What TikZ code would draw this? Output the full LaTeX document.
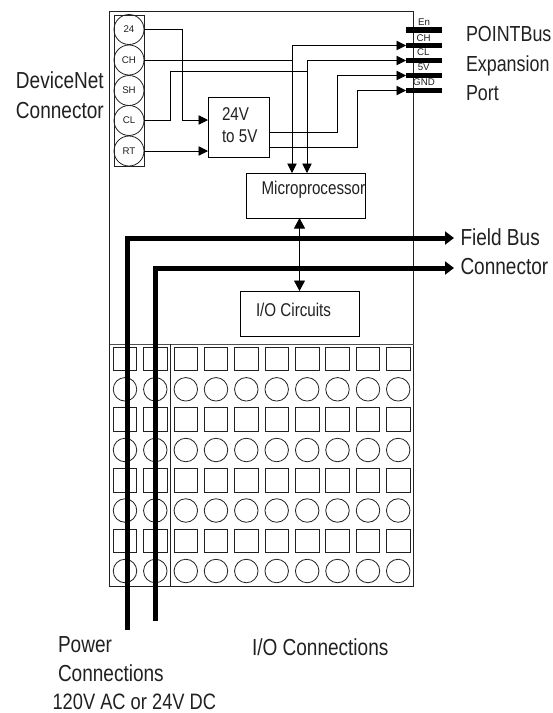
\documentclass[tikz,border=0pt]{standalone}
\usepackage{fontspec}
\setmainfont{Liberation Sans}[FakeStretch=0.82]
\newfontfamily\plainsans{Liberation Sans}
\usetikzlibrary{arrows.meta}
\definecolor{ink}{gray}{0.13}
\tikzset{
 x=1pt,y=-1pt,
 every node/.style={text=ink,inner sep=0pt,outer sep=0pt},
 lbl/.style={font=\fontsize{23.2}{29.5}\selectfont,align=left},
 pinc/.style={circle,draw=ink,line width=0.8pt,minimum size=30pt,font=\plainsans\fontsize{9.7}{11}\selectfont},
 blockb/.style={rectangle,draw=black,line width=1pt},
 blockt/.style={font=\fontsize{18.5}{22}\selectfont,align=left},
 wire/.style={draw=black,line width=0.9pt},
 arr/.style={wire,-{Triangle[length=9.5pt,width=9.5pt]}},
 bus/.style={draw=black,line width=5pt,-{Triangle[length=9pt,width=13pt]}},
 barp/.style={rectangle,fill=black,minimum width=36pt,minimum height=5.5pt},
 tsq/.style={rectangle,draw=ink,line width=0.8pt,minimum size=23.5pt},
 tci/.style={circle,draw=ink,line width=0.8pt,minimum size=23.5pt},
 pinl/.style={font=\plainsans\fontsize{9.7}{11}\selectfont},
}
\begin{document}
\begin{tikzpicture}
\useasboundingbox (0,0) rectangle (553,713);
\fill[white] (0,0) rectangle (553,713);
% outer
\node[draw=ink,line width=0.9pt,minimum width=304pt,minimum height=575pt] (body) at (261.5,298.5) {};
\coordinate (divL) at (109.5,344); \coordinate (divR) at (413.5,344);
\draw[draw=ink!80,line width=0.9pt] (divL) -- (divR);
\coordinate (vt) at (170.5,344); \coordinate (vb) at (170.5,586);
\draw[draw=ink,line width=0.7pt] (vt) -- (vb);
% strip
\node[draw=ink,line width=0.8pt,minimum width=30pt,minimum height=151pt] (strip) at (129,90.5) {};
\node[pinc] (p24) at (129,29.5) {24};
\node[pinc] (pCH) at (129,60) {CH};
\node[pinc] (pSH) at (129,90.5) {SH};
\node[pinc] (pCL) at (129,120.5) {CL};
\node[pinc] (pRT) at (129,151) {RT};
% blocks
\node[blockb,minimum width=61pt,minimum height=60pt] (conv) at (238.5,127) {};
\node[blockt,anchor=west] (convt) at (222,125) {24V\\to 5V};
\node[blockb,minimum width=119pt,minimum height=45pt] (micro) at (305.5,195.5) {};
\node[blockt,anchor=west] (microt) at (261.5,190) {Microprocessor};
\node[blockb,minimum width=119pt,minimum height=45pt] (io) at (299.5,313.5) {};
\node[blockt,anchor=west] (iot) at (256,310) {I/O Circuits};
% port bars
\foreach \n/\y in {En/30,CH/45.5,CL/60.5,V5/75.5,GND/90.5}{\node[barp] (b\n) at (424,\y) {};}
\node[pinl] (lEn) at (424,21.7) {En};
\node[pinl] (lCH) at (423.7,37.7) {CH};
\node[pinl] (lCL) at (423.3,52.3) {CL};
\node[pinl] (lV) at (423.7,67.7) {5V};
\node[pinl] (lG) at (424,82.3) {GND};
% wires
\coordinate (u24) at (conv.west |- 0,120);
\coordinate (uRT) at (conv.west |- pRT);
\coordinate (o1) at (conv.east |- 0,132);
\coordinate (o2) at (conv.east |- 0,147);
\coordinate (m1) at (292,173); \coordinate (m2) at (307,173);
\coordinate (j1) at (292,60); \coordinate (j2) at (307,71);
\draw[arr] (p24.east) -- (182,29.5) -- (182,120) -- (u24);
\draw[arr] (pRT.east) -- (uRT);
\draw[wire] (pCH.east) -- (j1);
\draw[wire] (pCL.east) -- (170,120.5) -- (170,71) -- (j2);
\draw[wire,{Triangle[length=9.5pt,width=9.5pt]}-{Triangle[length=9.5pt,width=9.5pt]}] (m1) -- (292,45.5) -- (bCH.west);
\draw[wire,{Triangle[length=9.5pt,width=9.5pt]}-{Triangle[length=9.5pt,width=9.5pt]}] (m2) -- (307,60.5) -- (bCL.west);
\draw[arr] (o1) -- (337,132) -- (337,75.5) -- (bV5.west);
\draw[arr] (o2) -- (357,147) -- (357,90.5) -- (bGND.west);
\draw[wire,{Triangle[length=10.5pt,width=11pt]}-{Triangle[length=10.5pt,width=11pt]}] (micro.south -| 299.5,0) -- (io.north);
% terminals
\foreach \x [count=\c] in {125,155.3,185.8,216,246.3,276.7,307.2,337.5,368,398.2}{
 \foreach \y [count=\r] in {359,419.6,480.2,541}{\node[tsq] (s\c-\r) at (\x,\y) {};}
 \foreach \y [count=\r] in {389.3,450,510.5,571}{\node[tci] (k\c-\r) at (\x,\y) {};}
}
% buses
\coordinate (pw1) at (127.5,630); \coordinate (pw2) at (155,621);
\coordinate (fb1) at (454,238); \coordinate (fb2) at (454,268);
\draw[bus] (pw1) -- (127.5,238) -- (fb1);
\draw[bus] (pw2) -- (155,268) -- (fb2);
% labels
\node[lbl,anchor=west] (dn) at (16,95) {DeviceNet\\Connector};
\node[lbl,anchor=west,font=\fontsize{21.8}{29.5}\selectfont] (pb) at (466,63.5) {POINTBus\\Expansion\\Port};
\node[lbl,anchor=west] (fl) at (460.5,237) {Field Bus};
\node[lbl,anchor=west] (fc) at (460.5,267) {Connector};
\node[lbl,anchor=west] (pc1) at (58,645) {Power};
\node[lbl,anchor=west] (pc2) at (58,673) {Connections};
\node[lbl,anchor=west,font=\fontsize{22.3}{27}\selectfont] (pc3) at (52.5,702) {120V AC or 24V DC};
\node[lbl,anchor=west] (ioc) at (252,647) {I/O Connections};
\end{tikzpicture}
\end{document}
